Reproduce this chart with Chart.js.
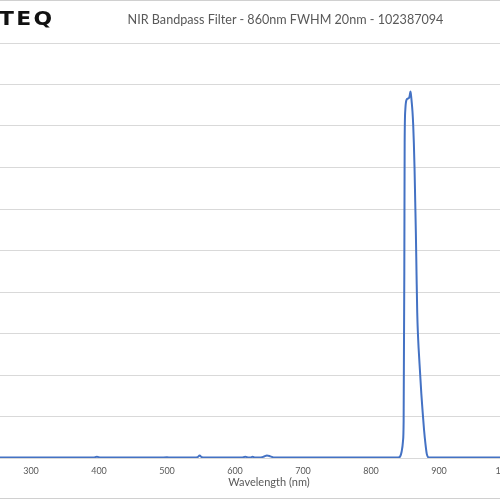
<!DOCTYPE html>
<html>
<head>
<meta charset="utf-8">
<script src="https://cdn.jsdelivr.net/npm/chart.js@4.4.1/dist/chart.umd.min.js"></script>
<style>
  html, body { margin: 0; padding: 0; background: #fff; }
  #frame {
    position: relative; width: 500px; height: 499px; overflow: hidden;
    border-top: 1px solid #D0D0D0; border-bottom: 1px solid #D0D0D0; box-sizing: border-box;
  }
  #chart { position: absolute; left: -100px; top: -1px; }
  #logo {
    position: absolute; left: -1px; top: 6px; font: bold 19px "DejaVu Sans", sans-serif;
    letter-spacing: 2px; color: #111; transform: scaleX(1.15); transform-origin: left top;
  }
  #title {
    position: absolute; left: 0; width: 571px; top: 11px; text-align: center;
    font: 12.6px Lato, sans-serif; color: #595959;
  }
</style>
</head>
<body>
<div id="frame">
  <canvas id="chart" width="700" height="500"></canvas>
  <div id="logo">TEQ</div>
  <div id="title">NIR Bandpass Filter - 860nm FWHM 20nm - 102387094</div>
</div>
<script>
// Measured spectrum (wavelength in nm, transmission in %)
const wavelengths = [200, 250, 300, 350, 380, 392, 397, 402, 420, 450, 490, 500, 505, 520,
    540, 545, 548, 551, 556, 570, 600, 610, 615, 620, 623, 626, 629, 636, 642, 647, 652, 658, 665,
    700, 750, 800, 830, 840, 843, 845, 847, 848, 849, 849.5, 850.5, 852, 854, 856, 857, 858, 859,
    860, 861, 862, 863, 864, 865, 866, 867, 868, 869, 870, 872, 874, 876, 878, 880, 882, 884, 886,
    900, 950, 1000, 1050, 1100];
const transmission = [0.1, 0.1, 0.1, 0.1, 0.1, 0.1, 0.3, 0.1, 0.1, 0.1, 0.1, 0.2, 0.1, 0.1,
    0.1, 0.2, 0.6, 0.2, 0.1, 0.1, 0.1, 0.1, 0.3, 0.1, 0.1, 0.3, 0.1, 0.1, 0.3, 0.6, 0.4, 0.1, 0.1,
    0.1, 0.1, 0.1, 0.1, 0.1, 0.4, 1.5, 4, 9, 45, 76, 84, 86.2, 86.6, 86.8, 87.4, 88.3, 87.2,
    85.5, 83.5, 80.5, 76, 70, 62, 54, 44, 35, 30, 26.5, 21, 15.5, 11, 6.8, 3.5, 1, 0.2, 0.1,
    0.1, 0.1, 0.1, 0.1, 0.1];
const xTicks = [200, 300, 400, 500, 600, 700, 800, 900, 1000, 1100];

const points = wavelengths.map((w, i) => ({ x: w, y: transmission[i] }));

new Chart(document.getElementById('chart').getContext('2d'), {
    type: 'line',
    data: {
        datasets: [{
            data: points,
            borderColor: '#4472C4',
            borderWidth: 2,
            pointRadius: 0,
            cubicInterpolationMode: 'monotone',
            fill: false
        }]
    },
    options: {
        responsive: false,
        animation: false,
        layout: { padding: { left: 63, right: 25, top: 43, bottom: 12 } },
        scales: {
            x: {
                type: 'linear', min: 200, max: 1100,
                afterBuildTicks: s => { s.ticks = xTicks.map(v => ({ value: v })); },
                grid: { display: false },
                border: { color: '#D9D9D9' },
                ticks: { color: '#595959', font: { family: 'Lato', size: 9, lineHeight: 1 }, padding: 1, maxRotation: 0, autoSkip: false },
                title: { display: true, text: 'Wavelength (nm)', color: '#595959',
                    font: { family: 'Lato', size: 11, lineHeight: 1 }, padding: { top: 0, bottom: 0 } }
            },
            y: {
                min: 0, max: 100,
                ticks: { display: false, stepSize: 10 },
                grid: { color: '#D9D9D9', drawTicks: false },
                border: { display: false },
                afterFit: s => { s.width = 0; }
            }
        },
        plugins: { legend: { display: false }, tooltip: { enabled: false } }
    }
});
</script>
</body>
</html>
